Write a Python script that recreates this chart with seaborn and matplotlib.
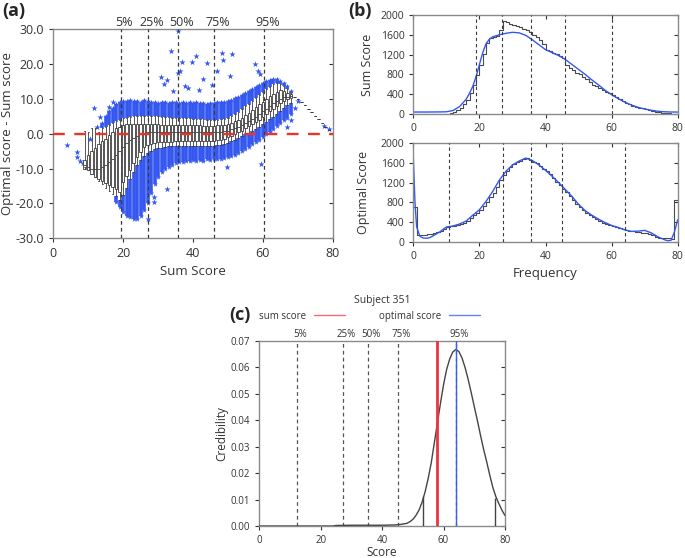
import numpy as np
import pandas as pd
import matplotlib
matplotlib.use('Agg')
import matplotlib.pyplot as plt
import seaborn as sns
from matplotlib.lines import Line2D

sns.set_style('ticks')
plt.rcParams['font.family'] = ['Open Sans', 'DejaVu Sans']
plt.rcParams['axes.unicode_minus'] = False

BLUE = '#3457f0'
RED = '#e8352c'
FRAME = '#8a8a8a'

# ---------------- panel (a) : boxes per sum score 9..68 ----------------
box_x = list(range(9, 69))
box_hi = [0.8, 0.5, 1.5, 1.5, 0.5, 1.5, 2.0, 2.5, 3.0, 3.5,
          4.0, 4.5, 4.5, 4.8, 5.0, 5.0, 5.0, 5.0, 5.0, 5.0,
          5.0, 5.0, 4.8, 4.8, 4.8, 4.5, 4.5, 4.5, 4.5, 4.5,
          4.5, 4.3, 4.3, 4.3, 4.2, 4.0, 4.0, 3.8, 4.0, 4.2,
          4.3, 4.6, 5.0, 5.6, 6.3, 7.0, 7.8, 8.6, 9.4, 10.2,
          11.0, 12.0, 12.8, 13.5, 14.2, 14.6, 14.3, 13.8, 12.8, 11.8]
box_q3 = [-7.5, -6.0, -5.0, -4.0, -3.0, -2.0, -1.5, -0.5, 0.5, 1.5,
          2.0, 2.5, 2.7, 2.8, 2.8, 2.8, 2.9, 2.8, 2.8, 2.7,
          2.7, 2.7, 2.6, 2.6, 2.6, 2.5, 2.5, 2.5, 2.5, 2.5,
          2.5, 2.4, 2.4, 2.4, 2.3, 2.3, 2.3, 2.3, 2.4, 2.5,
          2.6, 2.8, 3.1, 3.5, 4.0, 4.6, 5.3, 6.0, 6.8, 7.6,
          8.4, 9.2, 10.0, 10.8, 11.5, 12.0, 12.4, 12.3, 11.8, 11.3]
box_med = [-9.0, -9.5, -10.0, -10.2, -10.0, -9.6, -9.0, -8.2, -7.2, -6.2,
           -5.0, -3.8, -2.8, -1.9, -1.2, -0.6, -0.1, 0.2, 0.4, 0.5,
           0.6, 0.6, 0.6, 0.6, 0.6, 0.5, 0.5, 0.5, 0.5, 0.5,
           0.5, 0.5, 0.4, 0.4, 0.4, 0.4, 0.4, 0.4, 0.5, 0.6,
           0.7, 0.9, 1.2, 1.6, 2.0, 2.5, 3.0, 3.6, 4.2, 4.9,
           5.6, 6.4, 7.2, 8.0, 8.8, 9.5, 10.0, 10.4, 10.6, 10.7]
box_q1 = [-10.0, -10.5, -11.5, -12.3, -13.0, -13.6, -14.2, -14.8, -15.4, -16.0,
          -16.6, -13.8, -12.0, -10.5, -8.5, -6.7, -5.2, -3.8, -3.3, -2.9,
          -2.6, -2.4, -2.4, -2.3, -2.3, -2.3, -2.2, -2.2, -2.2, -2.2,
          -2.2, -2.2, -2.2, -2.2, -2.2, -2.2, -2.1, -2.0, -1.9, -1.7,
          -1.4, -1.0, -0.6, -0.1, 0.4, 0.9, 1.5, 2.1, 2.7, 3.3,
          4.0, 4.8, 5.6, 6.4, 7.2, 8.0, 8.8, 9.4, 9.9, 10.2]
box_lo = [-9.5, -10.5, -11.5, -12.5, -13.5, -14.5, -15.5, -16.5, -17.2, -18.0,
          -19.0, -17.5, -15.5, -13.0, -11.0, -9.0, -7.5, -6.5, -5.5, -5.0,
          -4.5, -4.2, -4.0, -3.8, -3.6, -3.5, -3.5, -3.5, -3.5, -3.5,
          -3.5, -3.5, -3.5, -3.5, -3.5, -3.5, -3.4, -3.4, -3.3, -3.2,
          -3.0, -2.6, -2.2, -1.7, -1.2, -0.7, -0.2, 0.3, 0.8, 1.4,
          2.0, 2.7, 3.4, 4.1, 4.9, 5.7, 6.5, 7.3, 8.1, 8.8]

# tail 69..79 : almost no spread
tail_x = list(range(69, 80))
tail_y = [10.6, 9.8, 9.0, 8.1, 7.1, 6.1, 5.1, 4.1, 3.0, 2.0, 1.0]

# extent of the dense outlier clouds, upper cloud from sum score 14, lower from 18
up_x = list(range(14, 69))
cloud_top = [3.0, 5.0, 6.5, 7.5, 8.5,
             9.0, 9.5, 9.3, 9.6, 9.4, 9.5, 9.2, 9.6, 9.3, 9.0,
             9.2, 8.9, 9.1, 9.0, 8.8, 9.2, 9.0, 8.9, 9.1, 8.8,
             9.0, 8.7, 9.0, 8.8, 8.9, 8.6, 8.8, 8.9, 9.0, 9.1,
             9.2, 9.4, 9.7, 10.1, 10.6, 11.1, 11.7, 12.3, 12.9, 13.4,
             14.0, 14.6, 15.1, 15.5, 15.7, 15.6, 15.2, 14.6, 13.6, 12.3]
lo_x = list(range(18, 69))
cloud_bot = [-19.5,
             -21.0, -22.5, -23.5, -24.0, -24.5, -24.5, -23.5, -22.0, -20.0, -17.0,
             -14.5, -12.5, -11.0, -10.0, -9.5, -9.0, -8.5, -8.2, -8.0, -7.8,
             -7.9, -7.6, -7.8, -7.5, -7.7, -7.4, -7.6, -7.3, -7.4, -7.2,
             -7.0, -6.8, -6.5, -6.1, -5.6, -5.0, -4.4, -3.7, -3.0, -2.4,
             -1.7, -1.0, -0.2, 0.6, 1.4, 2.2, 3.0, 3.8, 4.6, 5.5]

# scattered single outliers
stray_x = [3.8, 6.7, 6.9, 8.4, 7.6, 11.7, 12.4, 13.4, 10.5, 16.0, 17.2,
           30.8, 31.6, 32.6, 33.7, 34.2, 35.8, 36.3, 36.8, 35.6, 37.6, 38.5,
           39.6, 40.9, 41.6, 42.9, 43.9, 45.5, 46.8, 48.7, 48.2, 50.6, 51.3,
           57.8, 58.7, 59.3, 28.7, 28.8, 32.5, 27.0, 49.7, 59.5,
           67.0, 68.2, 69.2, 70.2, 77.6, 78.8]
stray_y = [-3.3, -5.3, -6.7, -8.4, -7.9, 7.4, 1.9, 4.8, -1.5, 7.6, 9.2,
           16.2, 14.3, 15.4, 23.6, 12.2, 29.4, 18.1, 20.5, 17.4, 13.6, 13.0,
           20.5, 22.4, 12.6, 15.8, 20.2, 14.0, 17.9, 21.0, 23.0, 16.4, 22.9,
           20.0, 18.1, 17.0, -18.1, -19.6, -15.8, -24.6, -9.6, -8.8,
           2.0, 4.0, 7.5, 9.4, 2.1, 1.4]

pct_labels = ['5%', '25%', '50%', '75%', '95%']
pct_a = [19.3, 27.1, 35.6, 46.1, 60.4]

# ---------------- panel (b) : histograms, bins 0..79 ----------------
hist_bins = np.arange(80) + 0.5
sum_counts = [0, 0, 0, 0, 0, 0, 0, 0, 0, 0,
              0, 15, 40, 80, 130, 200, 290, 420, 580, 790,
              1000, 1220, 1430, 1530, 1560, 1580, 1690, 1885, 1860, 1815,
              1790, 1770, 1750, 1720, 1690, 1650, 1600, 1550, 1490, 1410,
              1300, 1265, 1235, 1205, 1170, 1125, 990, 930, 880, 830,
              800, 750, 700, 640, 590, 570, 530, 480, 450, 420,
              390, 340, 295, 255, 225, 195, 170, 150, 130, 115,
              100, 80, 65, 50, 40, 28, 20, 12, 8, 5]
sum_fit_x = [0, 4, 8, 10, 12, 14, 16, 17, 18, 19, 20, 21, 22, 23, 24,
             26, 28, 30, 32, 34, 36, 38, 40, 42, 44, 46, 48, 50, 52,
             54, 56, 58, 60, 62, 64, 66, 68, 70, 72, 74, 76, 78, 80]
sum_fit_y = [40, 40, 42, 45, 70, 150, 300, 420, 560, 760, 1000, 1240, 1420, 1510, 1560,
             1600, 1630, 1650, 1640, 1590, 1500, 1400, 1300, 1240, 1180, 1100, 1000, 900, 800,
             690, 590, 480, 390, 310, 240, 180, 135, 100, 75, 55, 45, 40, 40]
pct_b_sum = [19.0, 26.9, 35.5, 46.0, 60.2]

opt_counts = [710, 130, 135, 140, 150, 165, 175, 195, 220, 255,
              290, 310, 320, 340, 360, 385, 420, 480, 540, 590,
              650, 730, 810, 900, 1000, 1120, 1250, 1360, 1440, 1520,
              1580, 1620, 1650, 1690, 1700, 1670, 1620, 1590, 1540, 1470,
              1430, 1370, 1300, 1220, 1150, 1080, 1010, 920, 840, 760,
              700, 640, 590, 540, 500, 460, 420, 390, 360, 330,
              310, 290, 270, 250, 235, 220, 210, 200, 190, 185,
              175, 160, 130, 100, 85, 80, 75, 70, 65, 840]
opt_fit_x = [0, 0.5, 1, 2, 3, 4, 5, 6, 7, 8, 9, 10, 12, 14, 16, 18, 20, 22, 24,
             26, 28, 30, 32, 34, 36, 38, 40, 42, 44, 46, 48, 50, 52, 54, 56, 58,
             60, 62, 64, 66, 68, 70, 72, 74, 76, 77, 78, 79, 80]
opt_fit_y = [1700, 800, 300, 110, 75, 70, 85, 120, 160, 200, 250, 300, 320, 360, 420, 540, 650, 820, 1020,
             1250, 1430, 1560, 1640, 1700, 1650, 1560, 1450, 1330, 1200, 1060, 920, 760, 630, 540, 460, 390,
             330, 290, 240, 210, 215, 230, 180, 100, 40, 20, 30, 200, 450]
pct_b_opt = [10.8, 27.1, 35.7, 45.1, 64.1]

# ---------------- panel (c) : credibility for subject 351 ----------------
cred_x = [0, 24, 25, 30, 35, 40, 44, 46, 48, 49, 50, 51, 52, 53, 54, 55, 56, 57, 58, 59, 60,
          61, 62, 63, 64, 65, 66, 67, 68, 69, 70, 71, 72, 73, 74, 75, 76, 77, 78, 79, 80]
cred_y = [0.0, 0.0, 0.0002, 0.0003, 0.0003, 0.0003, 0.0004, 0.0006, 0.0010, 0.0016, 0.0025,
          0.0040, 0.0060, 0.0090, 0.0130, 0.0180, 0.0240, 0.0315, 0.0390, 0.0465, 0.0535,
          0.0592, 0.0632, 0.0658, 0.0668, 0.0660, 0.0636, 0.0600, 0.0555, 0.0505, 0.0452,
          0.0400, 0.0345, 0.0292, 0.0245, 0.0195, 0.0148, 0.0112, 0.0085, 0.0060, 0.0040]
ci_x = [53.4, 76.7]
ci_h = [0.0112, 0.0105]
sum_score_351 = 57.9
opt_score_351 = 64.2
pct_c = [12.2, 27.4, 35.5, 45.1, 64.2]


def frame(ax):
    for s in ax.spines.values():
        s.set_color(FRAME)
        s.set_linewidth(1.0)
    ax.tick_params(colors='#333333', which='both')


fig = plt.figure(figsize=(6.85, 5.58), dpi=100)

# ======== (a) ========
ax = fig.add_axes([0.0778, 0.5729, 0.4079, 0.3751])
hi_start = box_hi[up_x[0] - box_x[0]:]
lo_end = box_lo[lo_x[0] - box_x[0]:]
ax.vlines(up_x, hi_start, cloud_top, color=BLUE, lw=2.6, zorder=2, capstyle='butt')
ax.vlines(lo_x, cloud_bot, lo_end, color=BLUE, lw=2.6, zorder=2, capstyle='butt')
ax.scatter(up_x, cloud_top, marker='*', s=16, color=BLUE, lw=0, zorder=2)
ax.scatter(lo_x, cloud_bot, marker='*', s=16, color=BLUE, lw=0, zorder=2)
sns.scatterplot(x=stray_x, y=stray_y, marker='*', s=22, color=BLUE, linewidth=0, ax=ax, zorder=2)

for p in pct_a:
    ax.axvline(p, color='#3a3a3a', lw=0.9, dashes=(3, 2.5), zorder=3)

stats = [dict(med=m, q1=a, q3=b, whislo=l, whishi=h, fliers=[])
         for m, a, b, l, h in zip(box_med, box_q1, box_q3, box_lo, box_hi)]
stats += [dict(med=y, q1=y, q3=y, whislo=y, whishi=y, fliers=[]) for y in tail_y]
kw = dict(color='#3a3a3a', lw=0.6)
ax.bxp(stats, positions=box_x + tail_x, widths=0.72, patch_artist=True, showfliers=False,
       manage_ticks=False, boxprops=dict(facecolor='white', edgecolor='#3a3a3a', lw=0.6),
       whiskerprops=kw, capprops=kw, medianprops=kw, zorder=4)

ax.axhline(0, color=RED, lw=1.7, dashes=(5, 4), zorder=6)

ax.set_xlim(0, 80)
ax.set_ylim(-30, 30)
ax.set_xticks([0, 20, 40, 60, 80])
ax.set_yticks(np.arange(-30, 31, 10))
ax.set_yticklabels([f'{v:.1f}' for v in np.arange(-30, 31, 10)])
ax.tick_params(labelsize=9, length=3)
ax.tick_params(axis='y', right=True, which='both')
for t in ax.yaxis.get_ticklines()[1::2]:
    t.set_marker(0)
ax.set_xlabel('Sum Score', fontsize=9.5, color='#333333', labelpad=3)
ax.set_ylabel('Optimal score - Sum score', fontsize=9.5, color='#333333')
ax.yaxis.set_label_coords(-0.14, 0.5)
for p, lab in zip(pct_a, pct_labels):
    ax.text(p + 1.0, 30.0, lab, ha='center', va='bottom', fontsize=9, color='#333333')
frame(ax)

# ======== (b) ========
def hist_panel(rect, counts, fit_x, fit_y, pcts, ylabel):
    a = fig.add_axes(rect)
    df = pd.DataFrame({'score': hist_bins, 'count': counts})
    sns.histplot(data=df, x='score', weights='count', bins=80, binrange=(0, 80),
                 element='step', fill=False, color='#4a4a4a', linewidth=0.8, ax=a)
    sns.lineplot(x=fit_x, y=fit_y, color=BLUE, lw=1.0, ax=a)
    for p in pcts:
        a.axvline(p, color='#3a3a3a', lw=0.8, dashes=(3, 2.5), zorder=3)
    a.set_xlim(0, 80)
    a.set_ylim(0, 2000)
    a.set_xticks([0, 20, 40, 60, 80])
    a.set_yticks(np.arange(0, 2001, 400))
    a.tick_params(labelsize=7.5, length=3, top=True, right=True)
    for t in a.yaxis.get_ticklines()[1::2]:
        t.set_marker(0)
    for t in a.xaxis.get_ticklines()[1::2]:
        t.set_marker(3)
    a.set_ylabel(ylabel, fontsize=9, color='#333333')
    a.set_xlabel('')
    frame(a)
    return a

b1 = hist_panel([0.6034, 0.7957, 0.386, 0.1774], sum_counts, sum_fit_x, sum_fit_y,
                pct_b_sum, 'Sum Score')
b1.yaxis.set_label_coords(-0.149, 0.5)
b2 = hist_panel([0.6034, 0.5668, 0.386, 0.1764], opt_counts, opt_fit_x, opt_fit_y,
                pct_b_opt, 'Optimal Score')
b2.yaxis.set_label_coords(-0.165, 0.5)
b2.set_xlabel('Frequency', fontsize=9.5, color='#333333')

# ======== (c) ========
c = fig.add_axes([0.3785, 0.0573, 0.3587, 0.3316])
for p in pct_c:
    c.axvline(p, color='#555555', lw=0.9, dashes=(3, 2.5), zorder=1)
sns.lineplot(x=cred_x, y=cred_y, color='#444444', lw=1.0, ax=c, zorder=3)
c.vlines(ci_x, 0, ci_h, color='#444444', lw=1.0, zorder=3)
c.axvline(sum_score_351, color='#ee3340', lw=2.0, zorder=4)
c.axvline(opt_score_351, color='#3a5cf0', lw=1.0, zorder=4)
c.set_xlim(0, 80)
c.set_ylim(0, 0.07)
c.set_xticks([0, 20, 40, 60, 80])
c.set_yticks(np.arange(0, 0.0701, 0.01))
c.set_yticklabels([f'{v:.2f}' for v in np.arange(0, 0.0701, 0.01)])
c.tick_params(labelsize=7, length=3, right=True)
for t in c.yaxis.get_ticklines()[1::2]:
    t.set_marker(0)
c.set_xlabel('Score', fontsize=8.5, color='#333333', labelpad=0)
c.set_ylabel('Credibility', fontsize=8.5, color='#333333')
c.yaxis.set_label_coords(-0.127, 0.5)
for p, lab in zip(pct_c, pct_labels):
    c.text(p + 1.0, 0.0703, lab, ha='center', va='bottom', fontsize=7, color='#333333')
c.set_title('Subject 351', fontsize=7.5, color='#333333', pad=27)
handles = [Line2D([], [], color='#f06a78', lw=1.0), Line2D([], [], color='#6a82f0', lw=1.0)]
c.legend(handles, ['sum score', 'optimal score'], ncol=2, markerfirst=False, frameon=False,
         loc='center', bbox_to_anchor=(0.45, 1.135), fontsize=7, handlelength=3.2,
         columnspacing=3.5, handletextpad=0.8, labelcolor='#333333')
frame(c)

fig.text(0.004, 0.997, '(a)', fontsize=13, fontweight='bold', va='top', ha='left')
fig.text(0.508, 0.997, '(b)', fontsize=13, fontweight='bold', va='top', ha='left')
fig.text(0.334, 0.451, '(c)', fontsize=13, fontweight='bold', va='top', ha='left')

fig.savefig('out.png', dpi=100)
